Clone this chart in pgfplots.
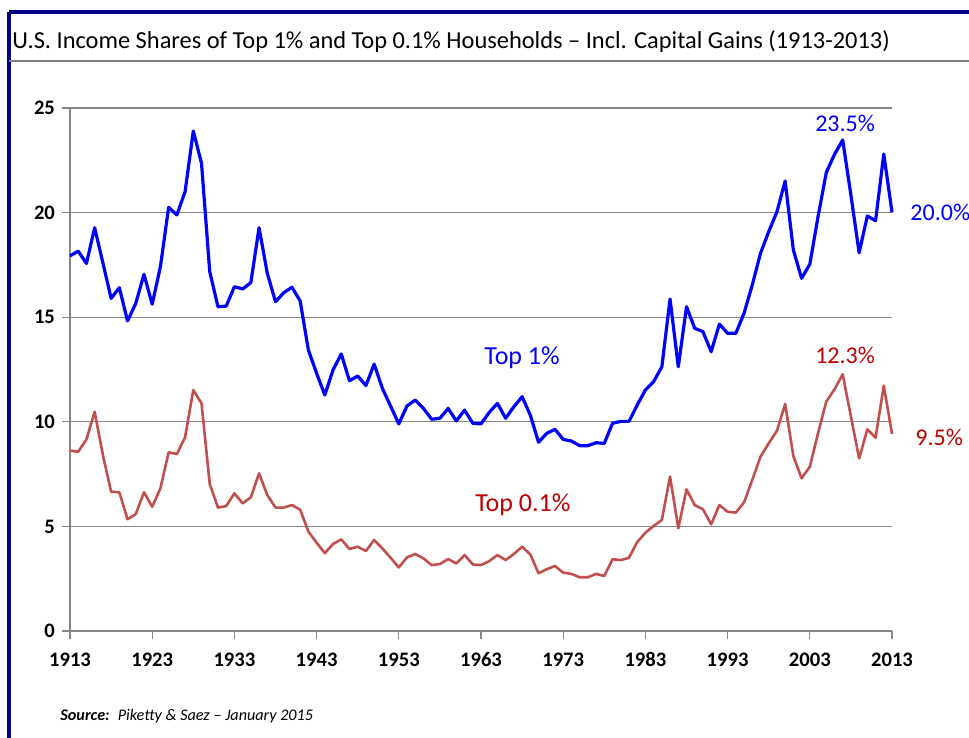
\documentclass[border=0pt]{standalone}
\usepackage{fontspec}
\setmainfont{Carlito}
\usepackage{pgfplots}
\pgfplotsset{compat=1.18}
\usepackage{pgfplotstable}

\definecolor{topone}{RGB}{0,0,255}
\definecolor{toppt}{RGB}{192,80,77}
\definecolor{lblred}{RGB}{192,0,0}
\definecolor{navyframe}{RGB}{0,0,128}
\definecolor{gridg}{RGB}{134,134,134}

% income share of the top 1% (incl. capital gains), percent
\pgfplotstableread{
year share
1913 17.93
1914 18.16
1915 17.57
1916 19.28
1917 17.60
1918 15.90
1919 16.41
1920 14.82
1921 15.66
1922 17.05
1923 15.62
1924 17.42
1925 20.25
1926 19.89
1927 21.00
1928 23.90
1929 22.36
1930 17.18
1931 15.50
1932 15.53
1933 16.46
1934 16.35
1935 16.65
1936 19.28
1937 17.10
1938 15.74
1939 16.17
1940 16.43
1941 15.78
1942 13.43
1943 12.32
1944 11.28
1945 12.48
1946 13.24
1947 11.96
1948 12.19
1949 11.73
1950 12.76
1951 11.60
1952 10.75
1953 9.90
1954 10.76
1955 11.04
1956 10.64
1957 10.12
1958 10.17
1959 10.64
1960 10.04
1961 10.56
1962 9.93
1963 9.90
1964 10.45
1965 10.88
1966 10.17
1967 10.72
1968 11.20
1969 10.32
1970 9.02
1971 9.45
1972 9.64
1973 9.16
1974 9.08
1975 8.86
1976 8.86
1977 9.00
1978 8.97
1979 9.93
1980 10.02
1981 10.02
1982 10.80
1983 11.52
1984 11.92
1985 12.63
1986 15.87
1987 12.63
1988 15.50
1989 14.47
1990 14.31
1991 13.35
1992 14.67
1993 14.23
1994 14.23
1995 15.19
1996 16.54
1997 18.05
1998 19.09
1999 20.04
2000 21.51
2001 18.21
2002 16.86
2003 17.53
2004 19.80
2005 21.91
2006 22.78
2007 23.47
2008 20.84
2009 18.08
2010 19.84
2011 19.61
2012 22.80
2013 20.01
}\topone

% income share of the top 0.1%
\pgfplotstableread{
year share
1913 8.62
1914 8.57
1915 9.16
1916 10.48
1917 8.41
1918 6.66
1919 6.63
1920 5.34
1921 5.59
1922 6.63
1923 5.94
1924 6.82
1925 8.54
1926 8.46
1927 9.26
1928 11.52
1929 10.88
1930 7.03
1931 5.90
1932 5.97
1933 6.58
1934 6.10
1935 6.39
1936 7.54
1937 6.50
1938 5.90
1939 5.90
1940 6.02
1941 5.80
1942 4.75
1943 4.22
1944 3.72
1945 4.16
1946 4.38
1947 3.92
1948 4.03
1949 3.82
1950 4.35
1951 3.95
1952 3.50
1953 3.04
1954 3.52
1955 3.68
1956 3.47
1957 3.15
1958 3.20
1959 3.44
1960 3.23
1961 3.63
1962 3.18
1963 3.15
1964 3.34
1965 3.63
1966 3.39
1967 3.68
1968 4.03
1969 3.66
1970 2.76
1971 2.95
1972 3.11
1973 2.79
1974 2.73
1975 2.57
1976 2.57
1977 2.73
1978 2.63
1979 3.43
1980 3.39
1981 3.50
1982 4.25
1983 4.70
1984 5.02
1985 5.31
1986 7.38
1987 4.91
1988 6.77
1989 6.02
1990 5.82
1991 5.10
1992 6.02
1993 5.70
1994 5.66
1995 6.15
1996 7.22
1997 8.33
1998 8.97
1999 9.57
2000 10.85
2001 8.36
2002 7.30
2003 7.85
2004 9.45
2005 10.96
2006 11.55
2007 12.27
2008 10.25
2009 8.25
2010 9.64
2011 9.24
2012 11.73
2013 9.42
}\toppointone

\begin{document}
\begin{tikzpicture}
% slide area, 1px = 0.5pt
\path[use as bounding box] (0,0) rectangle (484.5pt,-369pt);
\draw[navyframe, line width=1.6pt] (4.5pt,-6pt) -- (484.5pt,-6pt);
\draw[navyframe, line width=1.6pt] (4.5pt,-6pt) -- (4.5pt,-369pt);
\draw[gray, line width=1pt] (4.5pt,-30.5pt) -- (484.5pt,-30.5pt);
\node[anchor=west, inner sep=0pt, font=\fontsize{12.2}{14}\selectfont]
  at (6pt,-21pt) {U.S. Income Shares of Top 1\% and Top 0.1\% Households -- Incl. Capital Gains (1913-2013)};
\node[anchor=west, inner sep=0pt, font=\fontsize{8.1}{10}\selectfont\itshape]
  at (30pt,-358pt) {\textbf{Source:}\enspace Piketty \& Saez -- January 2015};

\begin{axis}[
    at={(35pt,-315.5pt)}, anchor=south west,
    scale only axis, width=411pt, height=261.5pt,
    xmin=1913, xmax=2013, ymin=0, ymax=25,
    axis x line*=bottom, axis y line*=left,
    axis line style={gridg, line width=0.6pt, -},
    xtick={1913,1923,...,2013}, ytick={0,5,...,25},
    ymajorgrids, grid style={gridg, line width=0.6pt},
    tick align=outside, major tick length=4pt,
    tick style={gridg, line width=0.6pt},
    ticklabel style={font=\fontsize{10.3}{12}\selectfont\bfseries},
    xticklabel style={text height=7pt, text depth=0pt, yshift=-3pt},
    /pgf/number format/assume math mode=true,
    /pgf/number format/1000 sep={},
    clip=false,
]
\addplot[topone, line width=1.6pt, line join=round] table[x=year, y=share] {\topone};
\addplot[toppt, line width=1.3pt, line join=round] table[x=year, y=share] {\toppointone};

\node[topone, font=\fontsize{13}{15}\selectfont] at (axis cs:1968,13.05) {Top 1\%};
\node[lblred, font=\fontsize{13}{15}\selectfont] at (axis cs:1968.1,6.02) {Top 0.1\%};
\node[topone, font=\fontsize{12}{14}\selectfont] at (axis cs:2007.3,24.28) {23.5\%};
\node[lblred, font=\fontsize{12}{14}\selectfont] at (axis cs:2007.3,13.15) {12.3\%};
\node[topone, anchor=west, inner sep=0pt, font=\fontsize{12}{14}\selectfont] at (axis cs:2015.2,20.03) {20.0\%};
\node[lblred, anchor=west, inner sep=0pt, font=\fontsize{12}{14}\selectfont] at (axis cs:2015.8,9.27) {9.5\%};
\end{axis}
\end{tikzpicture}
\end{document}
